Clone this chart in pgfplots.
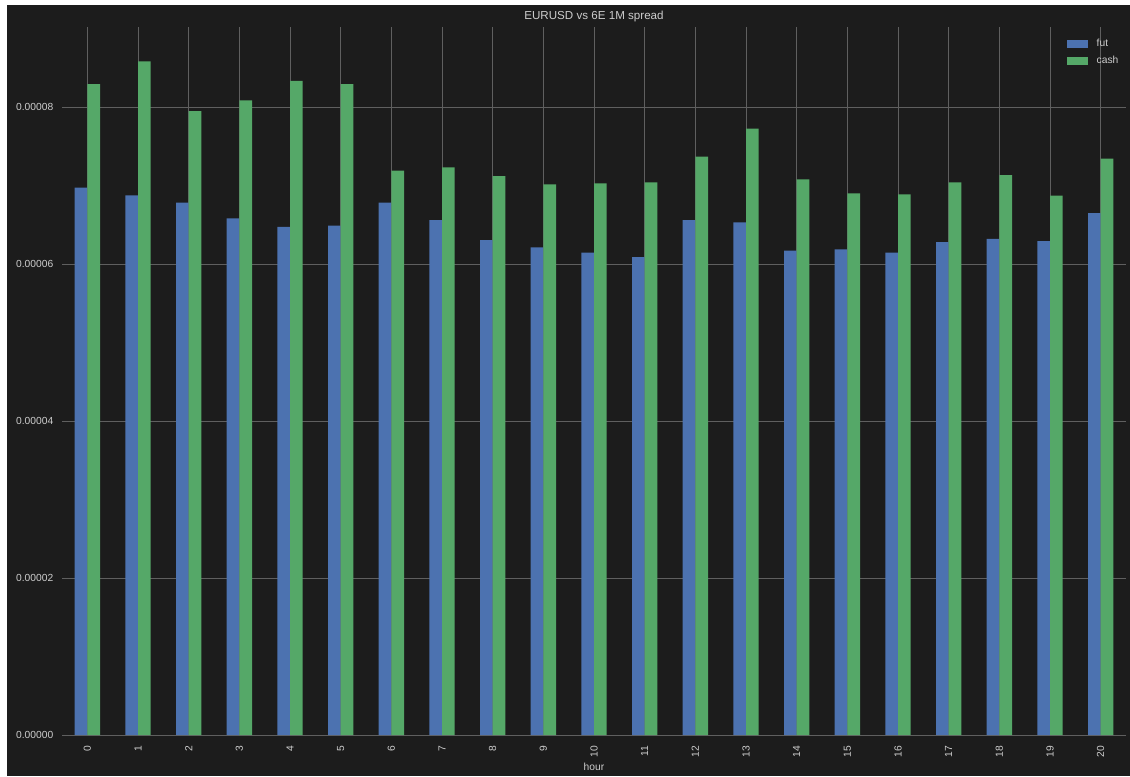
\documentclass[border=0pt]{standalone}
\usepackage{pgfplots}
\pgfplotsset{compat=1.18}
\usepackage{fontspec}
\setmainfont{Liberation Sans}

\definecolor{bg}{RGB}{28,28,28}
\definecolor{gridc}{RGB}{95,95,95}
\definecolor{txt}{RGB}{205,205,205}
\definecolor{futc}{RGB}{76,114,176}
\definecolor{cashc}{RGB}{85,168,104}

\begin{document}
\begin{tikzpicture}[x=0.75pt,y=0.75pt]
\fill[white] (0,0) rectangle (1130,776);
\fill[bg] (7,0) rectangle (1130,771);
\useasboundingbox (0,0) rectangle (1130,776);
\begin{axis}[
    at={(46.5pt,30.75pt)}, anchor=south west,
    scale only axis,
    width=798pt, height=531pt,
    ybar=0pt, bar width=9.5pt,
    xmin=-0.5, xmax=20.5,
    ymin=0, ymax=9.02e-5,
    xtick={0,1,...,20},
    ytick={0,2e-5,4e-5,6e-5,8e-5},
    yticklabels={0.00000,0.00002,0.00004,0.00006,0.00008},
    scaled y ticks=false,
    /pgf/number format/assume math mode=true,
    axis line style={draw=none},
    major tick length=0pt,
    grid=major,
    major grid style={gridc, line width=0.75pt},
    axis background/.style={fill=bg},
    tick label style={txt, font=\fontsize{7.7}{9}\selectfont},
    xticklabel style={rotate=90, anchor=east, xshift=-4.5pt},
    yticklabel style={xshift=-3pt},
    title={EURUSD vs 6E 1M spread},
    title style={txt, font=\fontsize{8.7}{10}\selectfont, at={(0.5,1)}, anchor=center, yshift=1.5pt},
    xlabel={hour},
    xlabel style={txt, font=\fontsize{7.7}{9}\selectfont, at={(axis description cs:0.5,0)}, anchor=center, yshift=-24pt},
    legend cell align=left,
    legend style={at={(1,1)}, anchor=north east, xshift=-2.5pt, yshift=-6pt,
        draw=none, fill=none, text=txt, font=\fontsize{7.7}{9}\selectfont,
        row sep=1.5pt, inner sep=1pt},
    legend image code/.code={\fill[#1] (0pt,-3pt) rectangle (15.75pt,3pt); \path (20.5pt,0pt);},
]
\addplot[fill=futc, draw=none] coordinates {
    (0,6.972e-5) (1,6.875e-5) (2,6.781e-5) (3,6.582e-5) (4,6.475e-5)
    (5,6.488e-5) (6,6.781e-5) (7,6.561e-5) (8,6.306e-5) (9,6.213e-5)
    (10,6.144e-5) (11,6.089e-5) (12,6.561e-5) (13,6.531e-5) (14,6.170e-5)
    (15,6.187e-5) (16,6.144e-5) (17,6.280e-5) (18,6.322e-5) (19,6.293e-5)
    (20,6.650e-5)
};
\addplot[fill=cashc, draw=none] coordinates {
    (0,8.293e-5) (1,8.582e-5) (2,7.949e-5) (3,8.085e-5) (4,8.335e-5)
    (5,8.293e-5) (6,7.189e-5) (7,7.232e-5) (8,7.121e-5) (9,7.015e-5)
    (10,7.028e-5) (11,7.041e-5) (12,7.367e-5) (13,7.724e-5) (14,7.079e-5)
    (15,6.901e-5) (16,6.888e-5) (17,7.041e-5) (18,7.134e-5) (19,6.870e-5)
    (20,7.342e-5)
};
\legend{fut,cash}
\end{axis}
\end{tikzpicture}
\end{document}
